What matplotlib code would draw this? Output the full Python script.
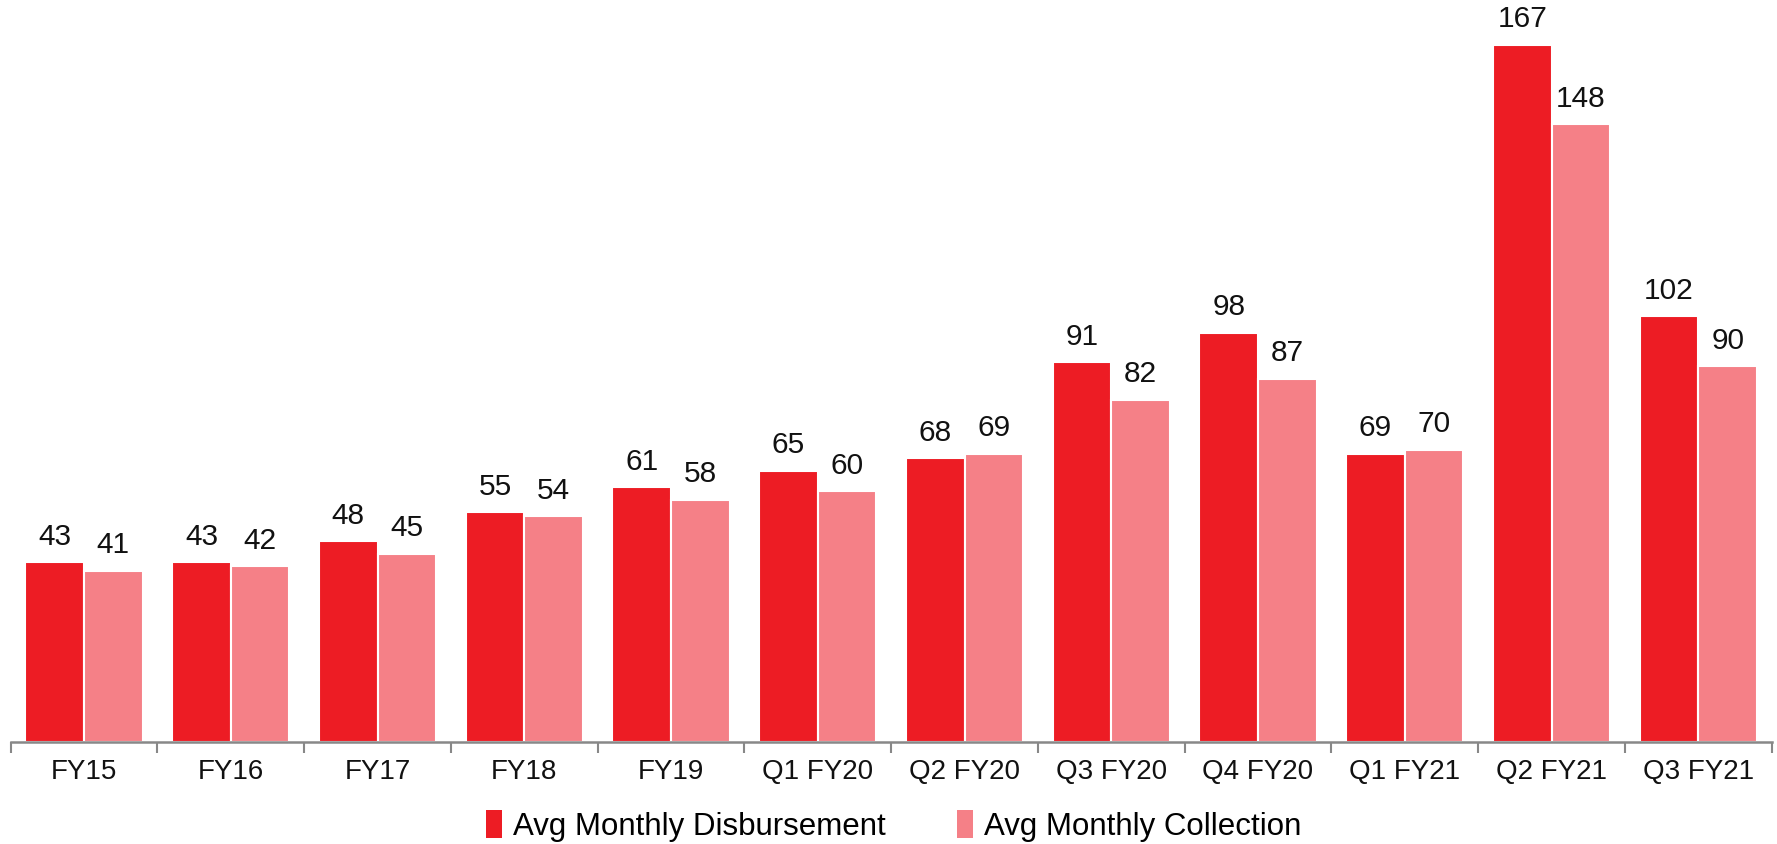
import matplotlib
matplotlib.use("Agg")
import matplotlib.pyplot as plt
import numpy as np
from matplotlib.patches import Patch

categories = ["FY15", "FY16", "FY17", "FY18", "FY19", "Q1 FY20", "Q2 FY20",
              "Q3 FY20", "Q4 FY20", "Q1 FY21", "Q2 FY21", "Q3 FY21"]
disbursement = [43, 43, 48, 55, 61, 65, 68, 91, 98, 69, 167, 102]
collection = [41, 42, 45, 54, 58, 60, 69, 82, 87, 70, 148, 90]

series_names = ["Avg Monthly Disbursement", "Avg Monthly Collection"]
colors = ["#ED1C24", "#F58087"]

plt.rcParams['font.family'] = ['Liberation Sans', 'DejaVu Sans']

fig = plt.figure(figsize=(17.77, 8.45), dpi=100)
ax = fig.add_axes([0.006, 0.121, 0.991, 0.879])

x = np.arange(len(categories))
w = 0.4
b1 = ax.bar(x - w / 2, disbursement, w, color=colors[0], edgecolor="white", linewidth=1.5)
b2 = ax.bar(x + w / 2, collection, w, color=colors[1], edgecolor="white", linewidth=1.5)

for bars, vals in ((b1, disbursement), (b2, collection)):
    for r, v in zip(bars, vals):
        ax.annotate(f"{v}", (r.get_x() + r.get_width() / 2, r.get_height()),
                    xytext=(0, 9), textcoords="offset points",
                    ha="center", va="bottom", fontsize=21.5, color="#111111")

ax.set_xlim(-0.5, len(categories) - 0.5)
ax.set_ylim(0, 178)
for s in ("top", "right", "left"):
    ax.spines[s].set_visible(False)
ax.spines["bottom"].set_color("#888888")
ax.spines["bottom"].set_linewidth(1.8)
ax.set_yticks([])

ax.set_xticks(np.arange(-0.5, len(categories)), minor=False)
ax.set_xticklabels([])
ax.tick_params(axis="x", which="major", direction="out", length=8, width=1.5, color="#888888")
ax.set_xticks(x, minor=True)
ax.set_xticklabels(categories, minor=True, fontsize=20, color="#111111")
ax.tick_params(axis="x", which="minor", length=0, pad=12)

handles = [Patch(facecolor=c, edgecolor="none") for c in colors]
fig.legend(handles, series_names, loc="lower center", bbox_to_anchor=(0.503, -0.03),
           ncol=2, frameon=False, fontsize=22.5, handlelength=0.5, handleheight=1.0,
           handletextpad=0.35, columnspacing=2.3)

fig.savefig("out.png", dpi=100)
